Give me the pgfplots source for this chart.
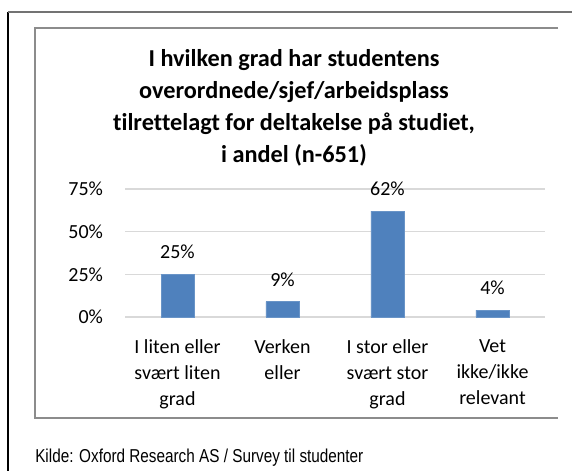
\documentclass[border=0pt]{standalone}
\usepackage{fontspec}
\setmainfont{Carlito}[Ligatures=CommonOff]
\newfontfamily\capfont[FakeStretch=0.82]{Liberation Sans}
\usepackage{pgfplots}
\pgfplotsset{compat=1.18}
\definecolor{barblue}{HTML}{4F81BD}
\definecolor{gridgray}{HTML}{D9D9D9}
\definecolor{boxgray}{HTML}{8C8C8C}
\begin{document}
\begin{tikzpicture}
\useasboundingbox (0pt,0pt) rectangle (429pt,353.25pt);
% outer frame
\draw[black, line width=0.9pt] (6pt,0pt) -- (6pt,344.25pt);
\draw[black!55, line width=1.1pt] (6pt,344.25pt) -- (429pt,344.25pt);
% inner chart box (three sides)
\draw[boxgray, line width=1.3pt] (418.5pt,332.25pt) -- (26.25pt,332.25pt) -- (26.25pt,39.75pt) -- (418.5pt,39.75pt);
% title
\begin{scope}[every node/.style={anchor=base, inner sep=0pt, font=\fontsize{18.2pt}{24pt}\selectfont\bfseries}]
\node at (220.5pt,303pt) {I hvilken grad har studentens};
\node at (220.5pt,279pt) {overordnede/sjef/arbeidsplass};
\node at (220.5pt,255pt) {tilrettelagt for deltakelse på studiet,};
\node at (220.5pt,231pt) {i andel (n-651)};
\end{scope}
% caption
\node[anchor=base west, inner sep=0pt, font=\capfont\fontsize{14pt}{16pt}\selectfont] at (26.25pt,6pt) {Kilde: Oxford Research AS / Survey til studenter};
\begin{axis}[
  at={(93.75pt,115.5pt)}, anchor=south west,
  scale only axis, width=315pt, height=96pt,
  xmin=-0.5, xmax=3.5, ymin=0, ymax=75,
  axis line style={draw=none},
  ymajorgrids, grid style={gridgray, line width=1.2pt},
  major tick length=0pt,
  ytick={0,25,50,75}, yticklabels={0\%,25\%,50\%,75\%},
  yticklabel style={font=\fontsize{15pt}{18pt}\selectfont, xshift=-13pt},
  xtick={0,1,2,3},
  xticklabels={{I liten eller\\svært liten\\grad},{Verken\\eller},{I stor eller\\svært stor\\grad},{Vet\\ikke/ikke\\relevant}},
  xticklabel style={align=center, font=\fontsize{15pt}{19.5pt}\selectfont, anchor=north, inner sep=0pt, yshift=-16.5pt},
  ybar, bar width=24.75pt,
  nodes near coords={\pgfmathprintnumber[assume math mode=true]{\pgfplotspointmeta}\%},
  every node near coord/.append style={font=\fontsize{15pt}{18pt}\selectfont, yshift=8pt},
  clip=false,
]
\addplot[fill=barblue, draw=barblue!85!white] coordinates {(0,25) (1,9) (2,62) (3,4)};
\end{axis}
\end{tikzpicture}
\end{document}
